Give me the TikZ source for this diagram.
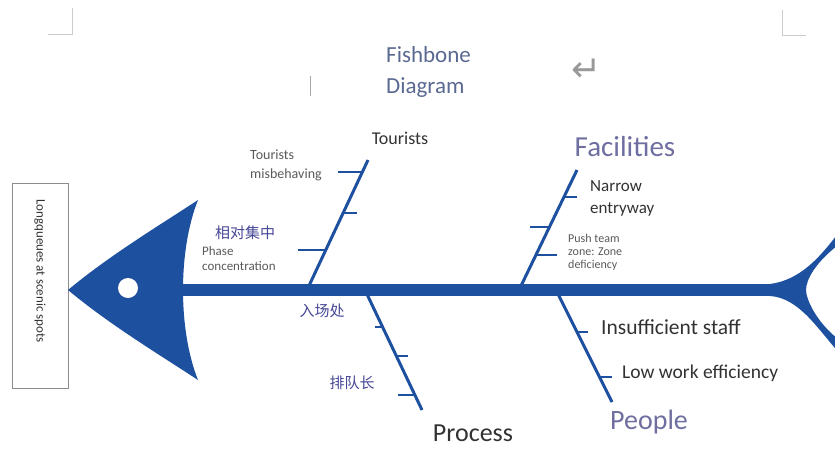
\documentclass[tikz,border=0pt]{standalone}
\usepackage{fontspec}
\setmainfont{Carlito}
\newfontfamily\cjk{Noto Sans CJK SC}
\newfontfamily\dejavu{DejaVu Sans}
\usetikzlibrary{calc}
\definecolor{bonecol}{RGB}{30,80,160}
\definecolor{titlecol}{RGB}{90,105,145}
\definecolor{catcol}{RGB}{110,110,160}
\definecolor{cjkcol}{RGB}{70,70,150}
\definecolor{txtcol}{RGB}{50,50,50}
\newcommand\fsz[1]{\fontsize{#1}{#1}\selectfont}

\begin{document}
\begin{tikzpicture}[x=1pt,y=-1pt,
  bone/.style={draw=bonecol,line width=3pt},
  rib/.style={draw=bonecol,line width=2.6pt},
  spine/.style={draw=bonecol,line width=12pt},
  lbl/.style={inner sep=0pt,anchor=west,text=txtcol},
  cat/.style={inner sep=0pt,text=catcol},
  cjklbl/.style={inner sep=0pt,text=cjkcol,font=\cjk\fsz{15}},
  cornermark/.style={draw=black!20,line width=0.8pt}]
\useasboundingbox (0,0) rectangle (835,450);
\clip (0,0) rectangle (835,450);

\draw[cornermark] (48,34) -- (72,34) -- (72,8);
\draw[cornermark] (782,10) -- (782,35) -- (806,35);
\draw[draw=black!35,line width=1pt] (310,76) -- (310,96);
\node[inner sep=0pt,text=black!40,font=\dejavu\fsz{36}] (ret) at (587,70) {↵};
\node[inner sep=0pt,anchor=base west,text=titlecol,font=\fsz{23}] (fish) at (386,62) {Fishbone};
\node[inner sep=0pt,anchor=base west,text=titlecol,font=\fsz{23}] (diag) at (386,93) {Diagram};

\node[draw=black!45,line width=0.8pt,minimum width=56pt,minimum height=205pt,inner sep=0pt] (box) at (40,285.5) {};
\node[inner sep=0pt,rotate=-90,text=txtcol,font=\fsz{13}] (effect) at (40,271) {Longqueues at scenic spots};

\fill[bonecol] (68,290) .. controls (110,255) and (160,225) .. (198,200)
  .. controls (178,250) and (178,330) .. (198,380)
  .. controls (160,355) and (110,325) .. (68,290) -- cycle;
\fill[white] (128,288) circle (10);
\fill[bonecol] (770,284) .. controls (800,280) and (820,258) .. (842,228) -- (842,242)
  .. controls (815,262) and (806,280) .. (806,290)
  .. controls (806,300) and (818,325) .. (842,342) -- (842,356)
  .. controls (818,330) and (800,298) .. (770,296) -- cycle;

\coordinate (head) at (175,290);
\coordinate (tail) at (795,290);
\draw[spine] (head) -- (tail);

\coordinate (t0) at (307,290);
\coordinate (t1) at (368,160);
\coordinate (f0) at (519,290);
\coordinate (f1) at (577,170);
\coordinate (p0) at (365,290);
\coordinate (p1) at (422,410);
\coordinate (q0) at (556,290);
\coordinate (q1) at (612,402);
\path[bone]
    (t0) edge (t1)
    (f0) edge (f1)
    (p0) edge (p1)
    (q0) edge (q1);

\draw[rib] ($(t0)!0.908!(t1)$) -- ++(-24,0);
\draw[rib] ($(t0)!0.592!(t1)$) -- ++(14,0);
\draw[rib] ($(t0)!0.308!(t1)$) -- ++(-28,0);
\draw[rib] ($(f0)!0.775!(f1)$) -- ++(13,0);
\draw[rib] ($(f0)!0.525!(f1)$) -- ++(-19,0);
\draw[rib] ($(f0)!0.292!(f1)$) -- ++(21,0);
\draw[rib] ($(p0)!0.308!(p1)$) -- ++(-8,0);
\draw[rib] ($(p0)!0.55!(p1)$) -- ++(12,0);
\draw[rib] ($(p0)!0.875!(p1)$) -- ++(-17,0);
\draw[rib] ($(q0)!0.375!(q1)$) -- ++(11,0);
\draw[rib] ($(q0)!0.777!(q1)$) -- ++(12,0);

\node[inner sep=0pt,text=txtcol,font=\fsz{18}] (tourists) at (400,138) {Tourists};
\node[lbl,font=\fsz{14},text=black!65] (mis1) at (250,155) {Tourists};
\node[lbl,font=\fsz{14},text=black!65] (mis2) at (250,175) {misbehaving};
\node[cjklbl] (rel) at (245,233) {相对集中};
\node[lbl,font=\fsz{13},text=black!65] (phase1) at (202,251) {Phase};
\node[lbl,font=\fsz{13},text=black!65] (phase2) at (202,266) {concentration};

\node[cat,font=\fsz{29}] (facil) at (625,147) {Facilities};
\node[lbl,font=\fsz{17}] (nar1) at (590,186) {Narrow};
\node[lbl,font=\fsz{17}] (nar2) at (590,209) {entryway};
\node[lbl,font=\fsz{12},text=black!65] (push1) at (568,238) {Push team};
\node[lbl,font=\fsz{12},text=black!65] (push2) at (568,252) {zone: Zone};
\node[lbl,font=\fsz{12},text=black!65] (push3) at (568,265) {deficiency};

\node[cjklbl] (entr) at (322,311) {入场处};
\node[cjklbl] (queue) at (352,383) {排队长};
\node[inner sep=0pt,text=txtcol,font=\fsz{26}] (process) at (473,433) {Process};

\node[lbl,font=\fsz{21.5}] (staff) at (601,327) {Insufficient staff};
\node[lbl,font=\fsz{19.5}] (low) at (622,373) {Low work efficiency};
\node[cat,anchor=west,font=\fsz{28}] (people) at (610,422) {People};
\end{tikzpicture}
\end{document}
